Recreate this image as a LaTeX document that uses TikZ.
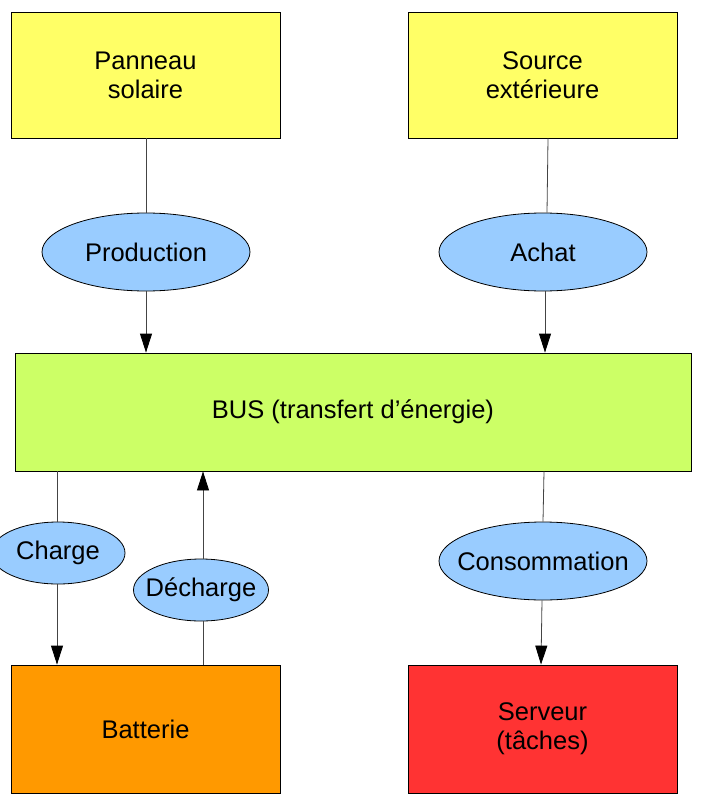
\documentclass[tikz,border=0pt]{standalone}
\usepackage{fontspec}
\setmainfont{Liberation Sans}
\usetikzlibrary{shapes.geometric,arrows.meta}
\definecolor{cyel}{HTML}{FFFF66}
\definecolor{cgrn}{HTML}{CCFF66}
\definecolor{corg}{HTML}{FF9900}
\definecolor{cred}{HTML}{FF3333}
\definecolor{cblu}{HTML}{99CCFF}
\definecolor{cline}{HTML}{444444}
\begin{document}
\begin{tikzpicture}[x=1pt,y=-1pt,
  box/.style={draw=black,line width=0.8pt,rectangle,inner sep=0pt,align=center,
    font=\fontsize{25.5}{29}\selectfont},
  oval/.style={draw=black,line width=0.8pt,ellipse,fill=cblu,inner sep=0pt},
  lbl/.style={inner sep=0pt,font=\fontsize{25.5}{29}\selectfont},
  link/.style={draw=cline,line width=0.8pt},
  flow/.style={link,-{Triangle[width=12pt,length=19pt,color=black]}}]
\useasboundingbox (0,0) rectangle (701,808);
\node[box,fill=cyel,minimum width=269pt,minimum height=126pt] (pan) at (145.5,75) {Panneau\\solaire};
\node[box,fill=cyel,minimum width=269pt,minimum height=126pt] (src) at (542.5,75) {Source\\extérieure};
\node[box,fill=cgrn,minimum width=676pt,minimum height=118pt] (bus) at (353,412) {BUS (transfert d’énergie)};
\node[box,fill=corg,minimum width=269pt,minimum height=128pt] (bat) at (145.5,729) {Batterie};
\node[box,fill=cred,minimum width=269pt,minimum height=128pt] (srv) at (542.5,729) {Serveur\\(tâches)};
\node[oval,minimum width=208pt,minimum height=78pt] (prod) at (146,252) {};
\node[oval,minimum width=208pt,minimum height=78pt] (achat) at (543,252) {};
\node[oval,minimum width=134pt,minimum height=62pt] (charge) at (58,553) {};
\node[oval,minimum width=135pt,minimum height=62pt] (dech) at (201,590) {};
\node[oval,minimum width=208pt,minimum height=78pt] (cons) at (543,561) {};
\node[lbl] (prodl) at (prod) {Production};
\node[lbl] (achatl) at (achat) {Achat};
\node[lbl] (chargel) at (charge) {Charge};
\node[lbl] (dechl) at (dech) {Décharge};
\node[lbl] (consl) at (cons) {Consommation};
% Production
\draw[link] (pan.south -| prod.north) -- (prod.north);
\draw[flow] (prod.south) -- (prod.south |- bus.north);
% Achat
\draw[link] ([xshift=5.5pt]src.south) -- ([xshift=4pt]achat.north);
\draw[flow] ([xshift=2pt]achat.south) -- ([xshift=2pt]achat.south |- bus.north);
% Charge
\draw[link] ([xshift=-1pt]charge.north |- bus.south) -- ([xshift=-1pt]charge.north);
\draw[flow] ([xshift=-1pt]charge.south) -- ([xshift=-1pt]charge.south |- bat.north);
% Decharge
\draw[link] ([xshift=2pt]dech.south |- bat.north) -- ([xshift=2pt]dech.south);
\draw[flow] ([xshift=2pt]dech.north) -- ([xshift=2pt]dech.north |- bus.south);
% Consommation
\draw[link] ([xshift=1pt]cons.north |- bus.south) -- (cons.north);
\draw[flow] ([xshift=-1pt]cons.south) -- ([xshift=-2pt]cons.south |- srv.north);
\end{tikzpicture}
\end{document}
